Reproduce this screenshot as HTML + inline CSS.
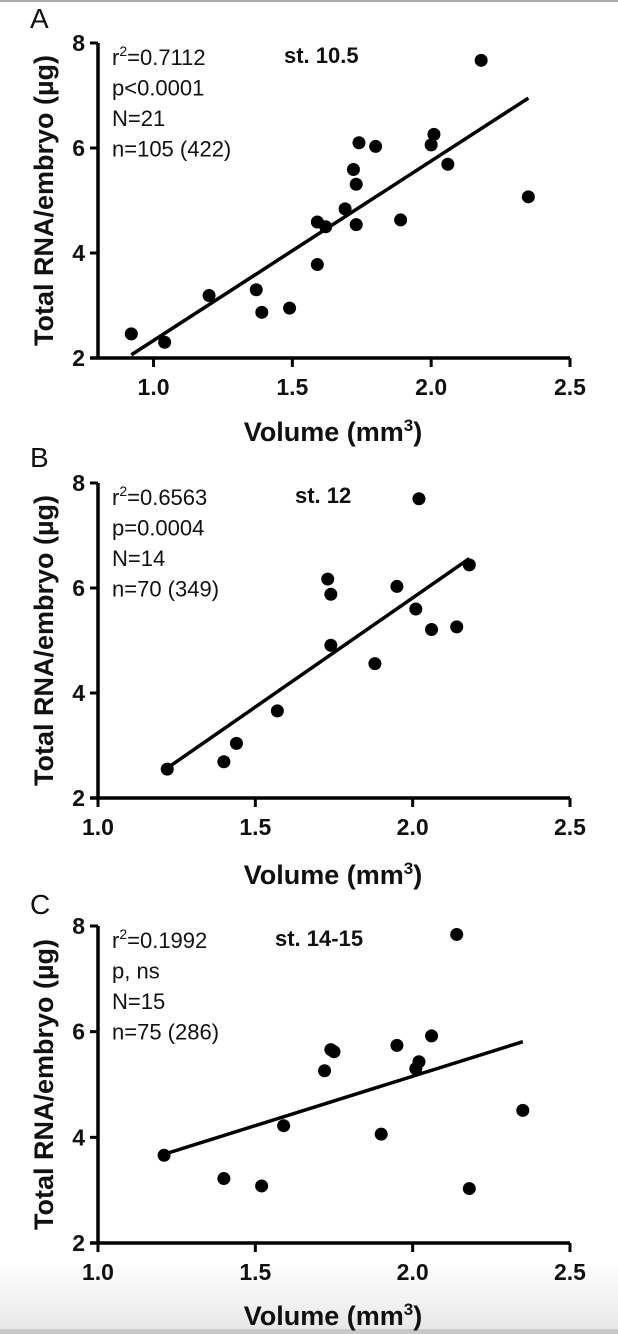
<!DOCTYPE html>
<html><head><meta charset="utf-8"><style>
html,body{margin:0;padding:0;background:#fff;}
svg{display:block;}
text{font-family:"Liberation Sans",Arial,sans-serif;fill:#111;}
.b{font-weight:bold;}
</style></head><body>
<svg id="fig" width="618" height="1334" viewBox="0 0 618 1334" xmlns="http://www.w3.org/2000/svg">
<defs><linearGradient id="bg" x1="0" y1="0" x2="0" y2="1"><stop offset="0" stop-color="#fff"/><stop offset="1" stop-color="#e6e6e6"/></linearGradient></defs>
<rect x="0" y="1262" width="618" height="72" fill="url(#bg)"/>
<rect x="0" y="1329" width="618" height="5" fill="#c8c8c8"/>
<rect x="0" y="0" width="618" height="2" fill="#aaa"/>
</svg>
<script>
// Panel A (st. 10.5)
const aX = [0.92,1.04,1.20,1.37,1.39,1.49,1.59,1.59,1.62,1.69,1.73,1.72,1.73,1.74,1.80,1.89,2.00,2.01,2.06,2.18,2.35];
const aY = [2.46,2.30,3.19,3.30,2.87,2.95,3.78,4.59,4.50,4.84,4.54,5.59,5.31,6.10,6.03,4.63,6.06,6.26,5.69,7.67,5.07];
const aFitX = [0.92,2.35];
const aFitY = [2.06,6.95];
// Panel B (st. 12)
const bX = [1.22,1.40,1.44,1.57,1.73,1.74,1.74,1.88,1.95,2.01,2.02,2.06,2.14,2.18];
const bY = [2.55,2.69,3.04,3.66,6.17,5.88,4.91,4.56,6.03,5.60,7.70,5.21,5.26,6.44];
const bFitX = [1.22,2.18];
const bFitY = [2.57,6.56];
// Panel C (st. 14-15)
const cX = [1.21,1.40,1.52,1.59,1.72,1.75,1.74,1.90,1.95,2.02,2.01,2.06,2.14,2.18,2.35];
const cY = [3.66,3.22,3.08,4.22,5.26,5.62,5.66,4.06,5.74,5.43,5.30,5.92,7.84,3.03,4.51];
const cFitX = [1.21,2.35];
const cFitY = [3.68,5.81];
const xTicks = [1.0,1.5,2.0,2.5];
const xTickLabels = ["1.0","1.5","2.0","2.5"];
const yTicks = [2,4,6,8];
const yTickLabels = ["2","4","6","8"];
const aStats = ["=0.7112","p<0.0001","N=21","n=105 (422)"];
const bStats = ["=0.6563","p=0.0004","N=14","n=70 (349)"];
const cStats = ["=0.1992","p, ns","N=15","n=75 (286)"];

const NS="http://www.w3.org/2000/svg";
const svg=document.getElementById('fig');
function mk(tag,attrs,parent,txt){const e=document.createElementNS(NS,tag);for(const k in attrs)e.setAttribute(k,attrs[k]);if(txt!==undefined)e.textContent=txt;(parent||svg).appendChild(e);return e;}

function panel(p){
  const g=mk('g',{});
  
  
  const L=98,R=570,T=p.top,B=p.bottom;
  const sx=v=>L+(v-p.xmin)/(2.5-p.xmin)*(R-L);
  const sy=v=>B-(v-2)/6*(B-T);
  const lt=mk('text',{x:30,y:p.letterY,'font-size':28},g,p.letter);
  
  
  const ya=mk('path',{d:`M${L} ${T}V${B}`,stroke:'#000','stroke-width':3.5,fill:'none'},g);
  
  
  const xa=mk('path',{d:`M${L-8} ${B}H${R}`,stroke:'#000','stroke-width':3.5,fill:'none'},g);
  
  
  yTicks.forEach((v,i)=>{
    const y=sy(v);
    const t=mk('path',{d:`M${L-8} ${y}H${L}`,stroke:'#000','stroke-width':3},g);
    
    
    const tl=mk('text',{x:L-13,y:y+8,'font-size':23,'text-anchor':'end',class:'b'},g,yTickLabels[i]);
    
    
  });
  xTicks.forEach((v,i)=>{
    const x=sx(v);
    const t=mk('path',{d:`M${x} ${B}V${B+9}`,stroke:'#000','stroke-width':3},g);
    
    
    const tl=mk('text',{x:x,y:p.tickY,'font-size':23,'text-anchor':'middle',class:'b'},g,xTickLabels[i]);
    
    
  });
  const xt=mk('text',{x:333,y:p.volY,'font-size':27,'text-anchor':'middle',class:'b'},g,'Volume (mm');
  mk('tspan',{dy:-10,'font-size':17},xt,'3');
  mk('tspan',{dy:10},xt,')');
  
  
  const cy=(T+B)/2;
  const yt=mk('text',{x:0,y:0,'font-size':27,'text-anchor':'middle',class:'b',transform:`translate(53 ${cy}) rotate(-90)`},g,'Total RNA/embryo (µg)');
  
  
  p.stats.forEach((s,i)=>{
    const t=mk('text',{x:112,y:T+22+i*30.5,'font-size':22},g);
    if(i===0){mk('tspan',{},t,'r');mk('tspan',{dy:-9,'font-size':14},t,'2');mk('tspan',{dy:9},t,s);}
    else t.textContent=s;
    
    
  });
  const st=mk('text',{x:p.stX,y:T+20,'font-size':22,class:'b'},g,p.stage);
  
  
  const fl=mk('line',{x1:sx(p.fx[0]),y1:sy(p.fy[0]),x2:sx(p.fx[1]),y2:sy(p.fy[1]),stroke:'#000','stroke-width':3.5},g);
  
  
  p.xs.forEach((v,i)=>{
    const c=mk('circle',{cx:sx(v),cy:sy(p.ys[i]),r:6.5,fill:'#000'},g);
    
    
  });
}
panel({id:'a',letter:'A',letterY:28,top:43,bottom:358,xmin:0.8,tickY:395,volY:441,xs:aX,ys:aY,fx:aFitX,fy:aFitY,stats:aStats,stage:'st. 10.5',stX:284});
panel({id:'b',letter:'B',letterY:467,top:483,bottom:798,xmin:1.0,tickY:835,volY:884,xs:bX,ys:bY,fx:bFitX,fy:bFitY,stats:bStats,stage:'st. 12',stX:295});
panel({id:'c',letter:'C',letterY:914,top:926,bottom:1243,xmin:1.0,tickY:1280,volY:1325,xs:cX,ys:cY,fx:cFitX,fy:cFitY,stats:cStats,stage:'st. 14-15',stX:275});
</script>
</body></html>
